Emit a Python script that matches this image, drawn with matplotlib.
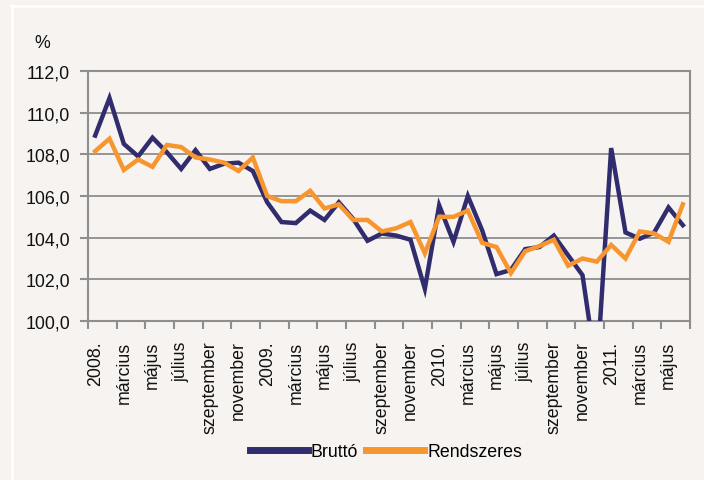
import matplotlib
matplotlib.use("Agg")
import matplotlib.pyplot as plt
from matplotlib.lines import Line2D
from matplotlib.ticker import FixedLocator, FuncFormatter

plt.rcParams['font.family'] = ['Liberation Sans', 'DejaVu Sans']

month_labels = ["2008.", "március", "május", "július", "szeptember", "november",
                "2009.", "március", "május", "július", "szeptember", "november",
                "2010.", "március", "május", "július", "szeptember", "november",
                "2011.", "március", "május"]

brutto = [108.9, 110.7, 108.5, 107.9, 108.8, 108.1, 107.3, 108.2, 107.3, 107.55,
          107.6, 107.2, 105.7, 104.75, 104.7, 105.3, 104.85, 105.7, 104.9, 103.85,
          104.2, 104.1, 103.9, 101.55, 105.55, 103.8, 106.0, 104.35, 102.25, 102.45,
          103.45, 103.55, 104.1, 103.15, 102.2, 97.5, 108.3, 104.25, 103.95, 104.25,
          105.45, 104.6]

rendszeres = [108.15, 108.75, 107.25, 107.75, 107.4, 108.45, 108.35, 107.85, 107.75, 107.6,
              107.2, 107.85, 106.0, 105.75, 105.75, 106.25, 105.4, 105.6, 104.85, 104.85,
              104.3, 104.45, 104.75, 103.25, 105.0, 105.0, 105.3, 103.75, 103.55, 102.3,
              103.35, 103.6, 103.9, 102.65, 103.0, 102.85, 103.65, 103.0, 104.3, 104.2,
              103.8, 105.6]

navy = '#302C6E'
orange = '#F7962F'
grid_c = '#8E8E8E'
bg = '#F6F3F0'
fs = 12.8

W, H = 704, 481
fig = plt.figure(figsize=(W / 100, H / 100), dpi=100, facecolor=bg)
ax = fig.add_axes([88 / W, 1 - 322 / H, (690 - 88) / W, (322 - 72) / H])
ax.set_facecolor(bg)

x = list(range(len(brutto)))
ax.plot(x, brutto, color=navy, lw=3.2, solid_joinstyle='miter', zorder=3)
ax.plot(x, rendszeres, color=orange, lw=3.2, solid_joinstyle='miter', zorder=4)

ax.set_xlim(-0.5, len(brutto) - 0.5)
ax.set_ylim(100, 112)

yt = [100 + 2 * i for i in range(7)]
ax.set_yticks(yt)
ax.yaxis.set_major_formatter(FuncFormatter(lambda v, p: f"{v:.1f}".replace('.', ',')))
ax.tick_params(axis='y', length=6, width=1.5, color=grid_c, pad=7, labelsize=fs,
               labelcolor='#111111')
ax.grid(axis='y', color=grid_c, lw=1.3, zorder=1)

major = list(range(0, len(brutto), 2))
ax.xaxis.set_major_locator(FixedLocator(major))
ax.set_xticklabels(month_labels, rotation=90, va='top', ha='center')
ax.tick_params(axis='x', which='major', length=0, pad=14, labelsize=fs,
               labelcolor='#111111')
ax.xaxis.set_minor_locator(FixedLocator([m - 0.5 for m in range(0, len(brutto) + 1, 2)]))
ax.tick_params(axis='x', which='minor', length=6, width=1.5, color=grid_c)

for s in ax.spines.values():
    s.set_color(grid_c)
    s.set_linewidth(1.5)

fig.text(42 / W, 1 - 43 / H, '%', ha='center', va='center', fontsize=fs, color='#111111')

# white frame lines
fig.add_artist(Line2D([11 / W, 1], [1 - 6.5 / H, 1 - 6.5 / H], transform=fig.transFigure,
                      color='white', lw=1.8))
fig.add_artist(Line2D([11.5 / W, 11.5 / W], [0, 1 - 6 / H], transform=fig.transFigure,
                      color='white', lw=1.8))

handles = [Line2D([], [], color=navy, lw=5), Line2D([], [], color=orange, lw=5)]
fig.legend(handles, ['Bruttó', 'Rendszeres'], loc='center', bbox_to_anchor=(386 / W, 1 - 453 / H),
           ncol=2, frameon=False, fontsize=fs, handlelength=3.27, handletextpad=0.17,
           columnspacing=0.45, borderpad=0, borderaxespad=0)

fig.savefig('out.png', dpi=100, facecolor=bg)
